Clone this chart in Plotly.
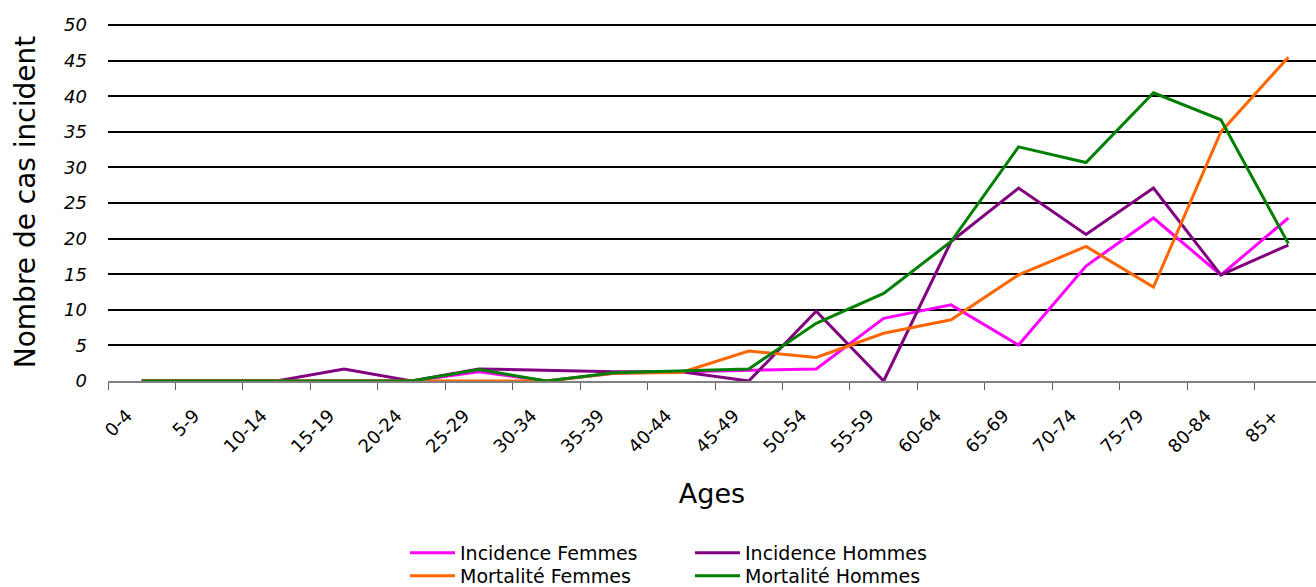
import numpy as np
import plotly.graph_objects as go

# Age groups (x categories)
ages = ["0-4", "5-9", "10-14", "15-19", "20-24", "25-29", "30-34", "35-39", "40-44",
        "45-49", "50-54", "55-59", "60-64", "65-69", "70-74", "75-79", "80-84", "85+"]

# Series values per age group
incidence_femmes = [0, 0, 0, 0, 0, 1.3, 0, 1.1, 1.3, 1.45, 1.7, 8.8, 10.7, 5.05, 16.15, 22.9, 14.9, 22.9]
incidence_hommes = [0, 0, 0, 1.7, 0, 1.7, 1.45, 1.3, 1.3, 0, 9.8, 0, 19.6, 27.1, 20.6, 27.1, 14.9, 19.1]
mortalite_femmes = [0, 0, 0, 0, 0, 0, 0, 1.1, 1.2, 4.2, 3.3, 6.7, 8.6, 14.9, 18.9, 13.2, 35.0, 45.5]
mortalite_hommes = [0, 0, 0, 0, 0, 1.6, 0, 1.17, 1.45, 1.7, 8.1, 12.3, 19.6, 32.9, 30.7, 40.5, 36.7, 19.3]

y_ticks = [0, 5, 10, 15, 20, 25, 30, 35, 40, 45, 50]

x = np.arange(len(ages))
FONT = "DejaVu Sans"

# plot area geometry (px)
PLOT_L, PLOT_T, PLOT_B = 108, 23, 381
PLOT_W, PLOT_H = 1316 - PLOT_L, PLOT_B - PLOT_T


def paper_x(px):
    return (px - PLOT_L) / PLOT_W


def paper_y(py):
    return (PLOT_B - py) / PLOT_H


# name, values, colour, legend id, legend anchor (px)
series = [
    ("Incidence Femmes", incidence_femmes, "#FF00FF", "legend", (405, 553)),
    ("Incidence Hommes", incidence_hommes, "#800080", "legend2", (690, 553)),
    ("Mortalité Femmes", mortalite_femmes, "#FF6600", "legend3", (405, 576)),
    ("Mortalité Hommes", mortalite_hommes, "#008000", "legend4", (690, 576)),
]

fig = go.Figure()
legends = {}
for name, vals, color, leg, (lx, ly) in series:
    fig.add_trace(go.Scatter(
        x=x, y=vals, name=name, mode="lines",
        line=dict(color=color, width=3),
        legend=leg,
    ))
    legends[leg] = dict(
        x=paper_x(lx), y=paper_y(ly), xanchor="left", yanchor="middle",
        orientation="v", font=dict(family=FONT, size=19, color="black"),
        itemwidth=45, bgcolor="rgba(0,0,0,0)",
    )

fig.update_layout(
    width=1316, height=587,
    margin=dict(l=PLOT_L, r=0, t=PLOT_T, b=587 - PLOT_B, autoexpand=False),
    paper_bgcolor="white", plot_bgcolor="white",
    font=dict(family=FONT, color="black"),
    xaxis=dict(
        range=[-0.5, 17.41],
        tickmode="array",
        tickvals=x - 0.22,
        ticktext=ages,
        tickangle=-45,
        ticks="",
        ticklabelstandoff=15,
        tickfont=dict(family=FONT, size=18, color="black"),
        showgrid=False,
        zeroline=False,
        showline=True, linecolor="#808080", linewidth=2,
        minor=dict(tickmode="linear", tick0=-0.5, dtick=1, ticks="outside",
                   ticklen=7, tickwidth=1, tickcolor="#606060", showgrid=False),
        title=dict(text="Ages", font=dict(family=FONT, size=27), standoff=28),
    ),
    yaxis=dict(
        range=[0, 50.3],
        tickmode="array",
        tickvals=y_ticks,
        ticks="",
        ticklabelstandoff=20,
        tickfont=dict(family=FONT, size=18, color="black", style="italic"),
        showgrid=True, gridcolor="black", gridwidth=2,
        zeroline=False, showline=False,
        title=dict(text="Nombre de cas incident", font=dict(family=FONT, size=28), standoff=20),
    ),
    showlegend=True,
    **legends,
)

fig.write_html("out.html")
